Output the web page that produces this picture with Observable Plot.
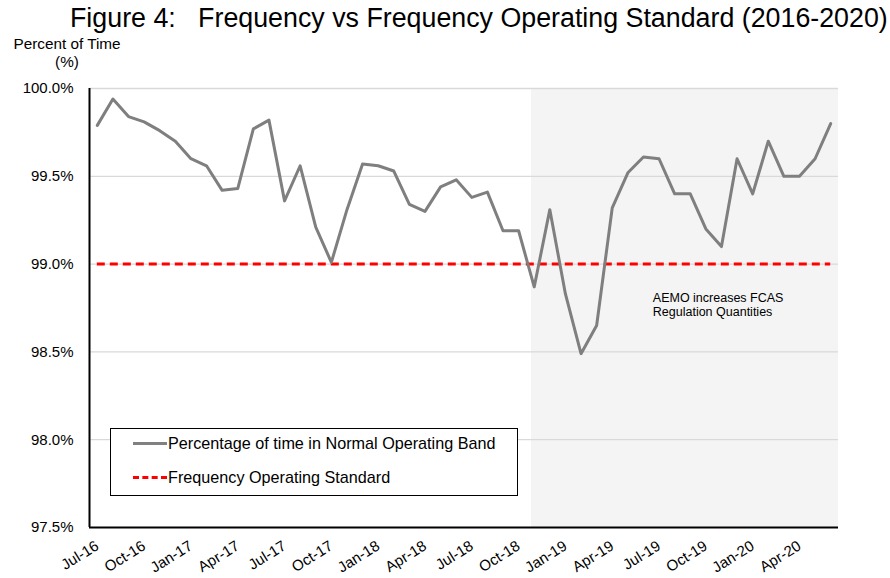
<!DOCTYPE html>
<html><head><meta charset="utf-8">
<script src="https://cdn.jsdelivr.net/npm/d3@7"></script>
<script src="https://cdn.jsdelivr.net/npm/@observablehq/plot@0.6"></script>
<style>
body{margin:0;background:#fff;font-family:"Liberation Sans",Arial,sans-serif;color:#000}
#wrap{position:relative;width:890px;height:578px;overflow:hidden}
#title{position:absolute;left:70px;top:2px;font-size:26.8px;white-space:pre;line-height:32px}
#ylab{position:absolute;left:5px;top:35px;width:124px;font-size:15.3px;text-align:center;line-height:18px}
#legend{position:absolute;left:110px;top:428px;width:408px;height:68px;border:1.5px solid #000;background:#fff;box-sizing:border-box;font-size:16.2px}
.li{position:absolute;left:22px;display:flex;align-items:center;white-space:nowrap}
.sw{width:34px;height:0;margin-right:1px}
#chart{position:absolute;left:0;top:0}
</style></head>
<body><div id="wrap">
<div id="chart"></div>
<div id="title">Figure 4:   Frequency vs Frequency Operating Standard (2016-2020)</div>
<div id="ylab">Percent of Time<br>(%)</div>
<div id="legend">
  <div class="li" style="top:5px"><div class="sw" style="border-top:3px solid #808080"></div><span id="l1"></span></div>
  <div class="li" style="top:39px"><div class="sw" style="border-top:3px dashed #ff0000"></div><span id="l2"></span></div>
</div>
</div>
<script>
const months = ["Jul-16","Aug-16","Sep-16","Oct-16","Nov-16","Dec-16","Jan-17","Feb-17","Mar-17","Apr-17","May-17","Jun-17",
"Jul-17","Aug-17","Sep-17","Oct-17","Nov-17","Dec-17","Jan-18","Feb-18","Mar-18","Apr-18","May-18","Jun-18",
"Jul-18","Aug-18","Sep-18","Oct-18","Nov-18","Dec-18","Jan-19","Feb-19","Mar-19","Apr-19","May-19","Jun-19",
"Jul-19","Aug-19","Sep-19","Oct-19","Nov-19","Dec-19","Jan-20","Feb-20","Mar-20","Apr-20","May-20","Jun-20"];
const pctNormal = [99.79,99.94,99.84,99.81,99.76,99.70,99.60,99.56,99.42,99.43,99.77,99.82,
99.36,99.56,99.21,99.01,99.31,99.57,99.56,99.53,99.34,99.30,99.44,99.48,
99.38,99.41,99.19,99.19,98.87,99.31,98.83,98.49,98.65,99.32,99.52,99.61,
99.60,99.40,99.40,99.20,99.10,99.60,99.40,99.70,99.50,99.50,99.60,99.80];
const standardValue = 99.0;
const yTicks = [97.5,98.0,98.5,99.0,99.5,100.0];
const xTickLabels = ["Jul-16","Oct-16","Jan-17","Apr-17","Jul-17","Oct-17","Jan-18","Apr-18","Jul-18","Oct-18","Jan-19","Apr-19","Jul-19","Oct-19","Jan-20","Apr-20"];
const seriesNames = ["Percentage of time in Normal Operating Band","Frequency Operating Standard"];
const shadeStartMonth = "Nov-18";
const annotationLines = ["AEMO increases FCAS","Regulation Quantities"];
const annotationAt = {month:"Jun-19", value:98.77};

document.getElementById("l1").textContent = seriesNames[0];
document.getElementById("l2").textContent = seriesNames[1];

const data = months.map((m,i)=>({i, m, v:pctNormal[i]}));
const idx = m => months.indexOf(m);
const n = months.length;
const yMin = yTicks[0], yMax = yTicks[yTicks.length-1];

const chart = Plot.plot({
  width: 890, height: 578,
  marginLeft: 89, marginRight: 52, marginTop: 88, marginBottom: 51,
  style: {fontFamily: "'Liberation Sans', Arial, sans-serif", color:"#000", background:"#fff"},
  x: {type:"linear", domain:[-0.5, n-0.5], axis:null},
  y: {domain:[yMin, yMax], axis:null},
  marks: [
    Plot.rect([{a: idx(shadeStartMonth)-0.17, b: n-0.5}], {x1:"a", x2:"b", y1:()=>yMin, y2:()=>yMax, fill:"#f4f4f4"}),
    Plot.gridY(yTicks.slice(1), {stroke:"#d9d9d9", strokeOpacity:1, strokeWidth:1.3}),
    Plot.ruleY([standardValue], {x1:0, x2:n-1, stroke:"#ff0000", strokeWidth:3, strokeDasharray:"8,5"}),
    Plot.line(data, {x:"i", y:"v", stroke:"#7f7f7f", strokeWidth:3, strokeLinejoin:"round"}),
    Plot.ruleX([-0.5], {y1:yMin, y2:yMax, stroke:"#000", strokeWidth:2}),
    Plot.ruleY([yMin], {x1:-0.5, x2:n-0.5, stroke:"#000", strokeWidth:2}),
    Plot.axisY(yTicks, {tickFormat:d=>d.toFixed(1)+"%", tickSize:0, tickPadding:16, fontSize:15, label:null}),
    Plot.axisX(xTickLabels.map(idx), {tickFormat:i=>months[i], tickSize:0, tickRotate:-32, tickPadding:17, fontSize:15, label:null}),
    Plot.text([annotationLines.join("\n")], {x:()=>idx(annotationAt.month)+0.6, y:()=>annotationAt.value, text:d=>d, textAnchor:"start", fontSize:12.5, lineHeight:1.15})
  ]
});
document.getElementById("chart").appendChild(chart);
</script>
</body></html>
